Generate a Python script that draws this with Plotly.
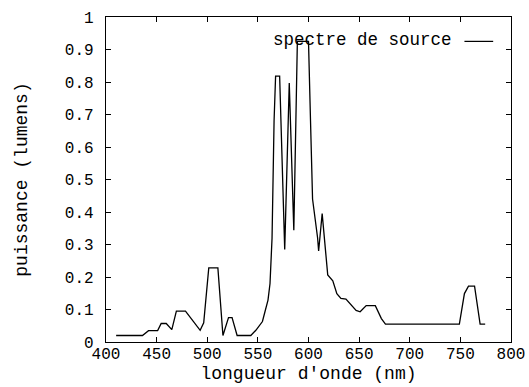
import plotly.graph_objects as go

# Source spectrum: wavelength (nm) and power (lumens)
wavelength = [410, 436, 442, 451, 454.5, 459.5, 465, 469.5, 478.5, 493, 496.5,
              501.5, 510.5, 515.5, 521, 524.5, 529.5, 543, 548, 554.5, 557, 560,
              562, 564, 566, 567.5, 571.5, 576.5, 581, 585.5, 589, 600, 602,
              604, 609, 610, 613.5, 619, 624, 628, 632, 637, 647, 651, 657, 666,
              672, 676, 749, 754, 758, 764, 769.5, 774.5]
power = [0.02, 0.02, 0.035, 0.035, 0.057, 0.057, 0.038, 0.095, 0.095, 0.036, 0.059,
         0.228, 0.228, 0.02, 0.075, 0.075, 0.02, 0.02, 0.036, 0.063, 0.093, 0.129,
         0.18, 0.32, 0.68, 0.818, 0.818, 0.285, 0.797, 0.344, 0.925, 0.925, 0.68,
         0.44, 0.32, 0.28, 0.395, 0.206, 0.188, 0.149, 0.134, 0.132, 0.097, 0.093,
         0.112, 0.112, 0.072, 0.055, 0.055, 0.149, 0.172, 0.172, 0.055, 0.055]

series_name = "spectre de source"
x_title = "longueur d'onde (nm)"
y_title = "puissance (lumens)"

FONT = "Courier New, Liberation Mono, monospace"

fig = go.Figure()
fig.add_trace(go.Scatter(x=wavelength, y=power, mode="lines",
                         line=dict(color="black", width=1.3),
                         name=series_name, showlegend=False))

axis_common = dict(showgrid=False, zeroline=False, showline=True, mirror="ticks",
                   linecolor="black", linewidth=1.3, ticks="inside", ticklen=5,
                   tickwidth=1, tickcolor="black", automargin=False,
                   tickfont=dict(family=FONT, size=16, color="black"))

fig.update_xaxes(range=[400, 800], dtick=50, tick0=400, ticklabelstandoff=-3,
                 title=dict(text=x_title, font=dict(family=FONT, size=18, color="black"),
                            standoff=0),
                 **axis_common)
fig.update_yaxes(range=[0, 1], dtick=0.1, tick0=0, ticklabelstandoff=8,
                 title=dict(text=y_title, font=dict(family=FONT, size=18, color="black"),
                            standoff=32),
                 **axis_common)

# Key: label text followed by a line sample, top right inside the frame
fig.add_annotation(x=0.86, y=0.928, xref="paper", yref="paper", xanchor="right",
                   yanchor="middle", text=series_name, showarrow=False,
                   font=dict(family=FONT, size=17.5, color="black"))
fig.add_shape(type="line", xref="paper", yref="paper", x0=0.885, x1=0.956,
              y0=0.925, y1=0.925, line=dict(color="black", width=1.2))

fig.update_layout(width=529, height=387, margin=dict(l=106, r=18, t=17, b=45),
                  plot_bgcolor="white", paper_bgcolor="white", showlegend=False)

fig.write_html("out.html")
